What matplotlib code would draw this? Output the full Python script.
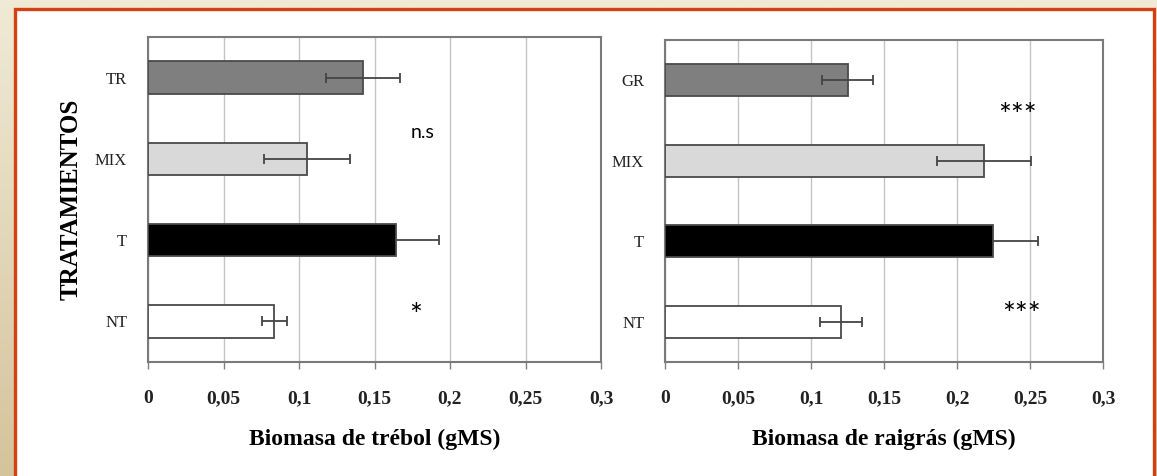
import numpy as np
import matplotlib
matplotlib.use("Agg")
import matplotlib.pyplot as plt
from matplotlib.patches import Rectangle

# data (top to bottom)
trebol_cats = ["TR", "MIX", "T", "NT"]
trebol_vals = [0.1425, 0.105, 0.164, 0.0835]
trebol_err = [0.0245, 0.0285, 0.029, 0.0083]

raigras_cats = ["GR", "MIX", "T", "NT"]
raigras_vals = [0.1253, 0.2185, 0.2247, 0.1205]
raigras_err = [0.0175, 0.0325, 0.031, 0.0145]

bar_colors = ["#7f7f7f", "#d9d9d9", "#000000", "#ffffff"]
xticks = [0, 0.05, 0.1, 0.15, 0.2, 0.25, 0.3]
xtick_labels = ["0", "0,05", "0,1", "0,15", "0,2", "0,25", "0,3"]

W, H = 1157, 476
fig = plt.figure(figsize=(W / 100, H / 100), dpi=100)

# beige gradient background
bg = fig.add_axes([0, 0, 1, 1], zorder=-10)
grad = np.linspace(0, 1, 256).reshape(-1, 1)
c0 = np.array([240, 234, 214]) / 255
c1 = np.array([212, 196, 156]) / 255
img = c0 + (c1 - c0) * grad[:, :, None]
bg.imshow(img, aspect="auto", extent=[0, 1, 0, 1], origin="upper")
bg.axis("off")

# white panel with orange frame
panel = Rectangle((14.5 / W, -0.05), (1154 - 14.5) / W, 1.05 - 9.5 / H,
                  transform=fig.transFigure, facecolor="white",
                  edgecolor="#d2410f", linewidth=2.4, zorder=-5)
fig.patches.append(panel)

serif = "Liberation Serif"


def draw_panel(ax, cats, vals, errs, xlabel):
    y = np.arange(len(cats))
    ax.barh(y, vals, height=0.4, color=bar_colors, edgecolor="#4a4a4a",
            linewidth=1.3, zorder=3)
    for i in range(len(cats)):
        # whisker hidden behind the black bar, drawn on top of the others
        z = 2.5 if bar_colors[i] == "#000000" else 4
        ax.errorbar(vals[i], y[i], xerr=errs[i], fmt="none", ecolor="#444444",
                    elinewidth=1.3, capsize=3.5, capthick=1.3, zorder=z)
    ax.set_xlim(0, 0.3)
    ax.set_ylim(len(cats) - 0.5, -0.5)
    ax.set_yticks(y)
    ax.set_yticklabels(cats, fontfamily=serif, fontsize=12, color="#222222")
    ax.set_xticks(xticks)
    ax.set_xticklabels(xtick_labels, fontfamily=serif, fontsize=14,
                       fontweight="bold", color="#222222")
    ax.tick_params(axis="y", length=0, pad=15)
    ax.tick_params(axis="x", length=5, width=1, color="#808080", pad=15)
    ax.grid(axis="x", color="#c4c4c4", linewidth=1, zorder=0)
    ax.set_axisbelow(True)
    for s in ax.spines.values():
        s.set_color("#7a7a7a")
        s.set_linewidth(1.5)
    ax.set_xlabel(xlabel, fontfamily=serif, fontsize=17, fontweight="bold",
                  labelpad=16)


ax1 = fig.add_axes([148 / W, 1 - 362 / H, (601 - 148) / W, (362 - 37) / H])
draw_panel(ax1, trebol_cats, trebol_vals, trebol_err,
           "Biomasa de trébol (gMS)")
ax1.set_ylabel("TRATAMIENTOS", fontfamily=serif, fontsize=18,
               fontweight="bold", labelpad=9)
ax1.text(0.182, 0.68, "n.s", fontfamily="Lato", fontsize=14,
         ha="center", va="center")
ax1.text(0.177, 2.93, "*", fontfamily="Lato", fontsize=22,
         ha="center", va="center")

ax2 = fig.add_axes([665 / W, 1 - 362 / H, (1103 - 665) / W, (362 - 40) / H])
draw_panel(ax2, raigras_cats, raigras_vals, raigras_err,
           "Biomasa de raigrás (gMS)")
ax2.text(0.2415, 0.44, "***", fontfamily="Lato", fontsize=22,
         ha="center", va="center")
ax2.text(0.2445, 2.92, "***", fontfamily="Lato", fontsize=22,
         ha="center", va="center")

fig.savefig("out.png", dpi=100)
